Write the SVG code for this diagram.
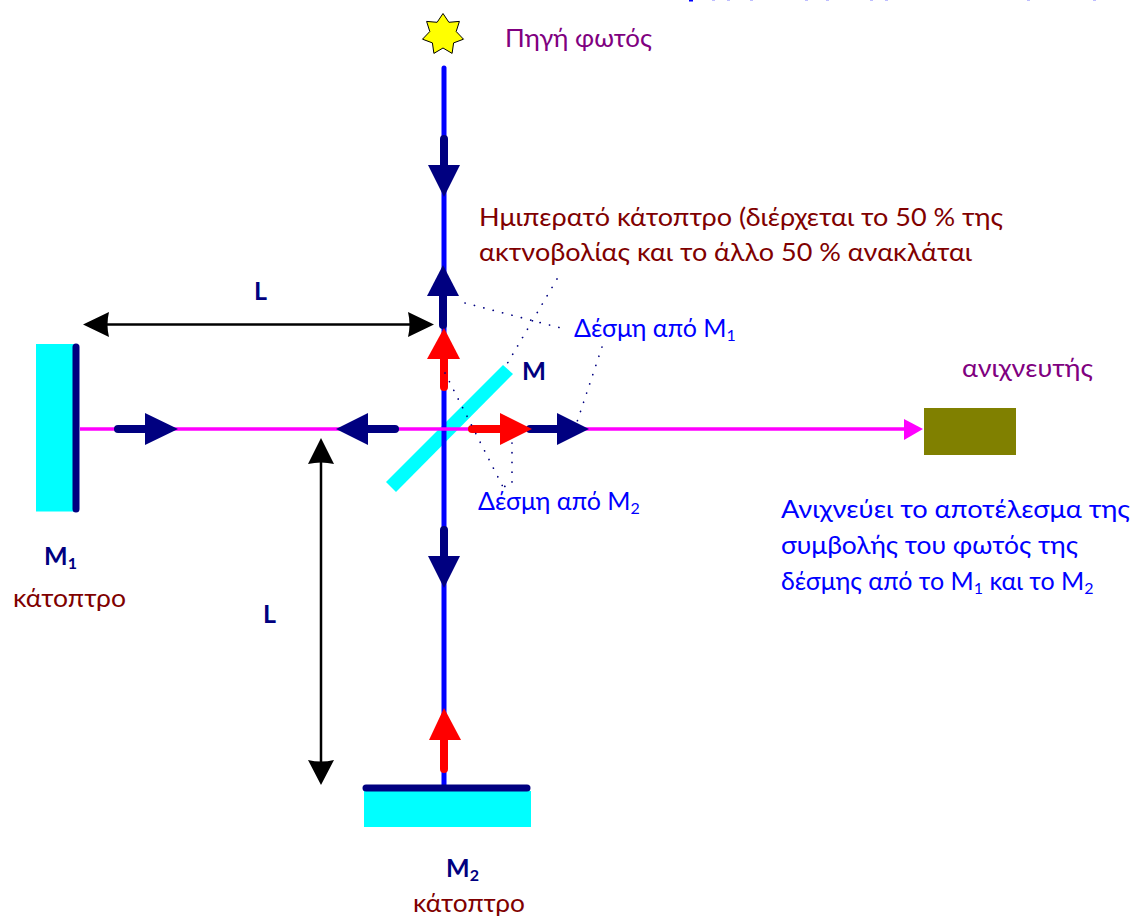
<svg xmlns="http://www.w3.org/2000/svg" width="1135" height="916" viewBox="0 0 1135 916">
<style>
text{font-family:"Lato","Open Sans","Noto Sans",sans-serif;font-size:25px}
.pu{fill:#800080}.dr{fill:#800000}.bl{fill:#0000ff}
.nb{fill:#000080;font-weight:bold}
.sub{font-size:16px}
.cy{fill:#00ffff}
.bar{stroke:#000080;stroke-width:7;stroke-linecap:round;fill:none}
.navy{stroke:#000080;stroke-width:8;stroke-linecap:round;fill:none}
.red{stroke:#ff0000;stroke-width:8;stroke-linecap:round;fill:none}
.hn{fill:#000080}.hr{fill:#ff0000}.hk{fill:#000}
.dot{stroke:#000080;stroke-width:1.7;stroke-linecap:round;stroke-dasharray:0.1 9.6;fill:none}
</style>
<rect width="1135" height="916" fill="#fff"/>
<g id="clipped-top" fill="#0000ff">
<rect x="689" y="0" width="4" height="1.5"/>
<g opacity="0.25"><rect x="712" y="0" width="3" height="1"/><rect x="727" y="0" width="3" height="1"/><rect x="750" y="0" width="3" height="1"/><rect x="805" y="0" width="3" height="1"/><rect x="826" y="0" width="3" height="1"/><rect x="870" y="0" width="3" height="1"/><rect x="885" y="0" width="3" height="1"/><rect x="1027" y="0" width="3" height="1"/><rect x="1093" y="0" width="3" height="1"/></g>
</g>
<g id="source">
<polygon points="443,13.5 448.9,22.3 459.4,21.4 456.2,31.5 463.5,39.2 453.6,42.9 452.1,53.4 443,48 433.9,53.4 432.4,42.9 422.5,39.2 429.8,31.5 426.6,21.4 437.1,22.3" fill="#ffff00" stroke="#000" stroke-width="1"/>
<text x="505" y="47" class="pu" textLength="147" lengthAdjust="spacingAndGlyphs">Πηγή φωτός</text>
</g>
<g id="mirror-m">
<polygon points="503,365 513,374 396,492 386,482" class="cy"/>
<text x="522" y="380" class="nb" textLength="24" lengthAdjust="spacingAndGlyphs">M</text>
</g>
<g id="mirror-m1">
<rect x="36" y="344" width="40" height="167.500" class="cy"/>
<line x1="76" y1="347" x2="76" y2="509" class="bar"/>
<text x="44" y="565" class="nb">M<tspan class="sub" dy="4">1</tspan></text>
<text x="13" y="607" class="dr" textLength="113" lengthAdjust="spacingAndGlyphs">κάτοπτρο</text>
</g>
<g id="mirror-m2">
<rect x="364" y="791" width="167" height="36" class="cy"/>
<text x="446" y="877" class="nb">M<tspan class="sub" dy="4">2</tspan></text>
<text x="413" y="912" class="dr" textLength="112" lengthAdjust="spacingAndGlyphs">κάτοπτρο</text>
</g>
<g id="detector">
<rect x="924" y="408" width="92" height="47" fill="#808000"/>
<text x="962" y="377" class="pu" textLength="131" lengthAdjust="spacingAndGlyphs">ανιχνευτής</text>
<text x="781" y="518" class="bl" textLength="349" lengthAdjust="spacingAndGlyphs">Ανιχνεύει το αποτέλεσμα της</text>
<text x="781" y="554" class="bl" textLength="297" lengthAdjust="spacingAndGlyphs">συμβολής του φωτός της</text>
<text x="781" y="590" class="bl">δέσμης από το M<tspan class="sub" dy="4">1</tspan><tspan dy="-4"> και το M</tspan><tspan class="sub" dy="4">2</tspan></text>
</g>
<g id="labels">
<text x="479" y="226" class="dr" textLength="524" lengthAdjust="spacingAndGlyphs">Ημιπερατό κάτοπτρο (διέρχεται το 50 % της</text>
<text x="479" y="261" class="dr" textLength="493" lengthAdjust="spacingAndGlyphs">ακτνοβολίας και το άλλο 50 % ανακλάται</text>
<text x="574" y="337" class="bl">Δέσμη από M<tspan class="sub" dy="4">1</tspan></text>
<text x="478" y="510" class="bl">Δέσμη από M<tspan class="sub" dy="4">2</tspan></text>
<text x="254" y="300" class="nb" font-size="25">L</text>
<text x="263" y="623" class="nb">L</text>
</g>
<g id="connectors">
<line x1="444" y1="68" x2="444" y2="786" stroke="#0000ff" stroke-width="5" stroke-linecap="round"/>
<line x1="80" y1="429" x2="906" y2="429" stroke="#ff00ff" stroke-width="3.500"/>
<polygon points="923,429 904,419 904,440" fill="#ff00ff"/>
<line x1="366" y1="788" x2="527" y2="788" class="bar"/>
<line x1="444" y1="139" x2="444" y2="170" class="navy"/><polygon points="444,197 428,165 460,165" class="hn"/>
<line x1="444" y1="530" x2="444" y2="560" class="navy"/><polygon points="444,588 428,556 460,556" class="hn"/>
<line x1="443" y1="325" x2="443" y2="290" class="navy"/><polygon points="443,265 427,296 459,296" class="hn"/>
<line x1="444" y1="387" x2="444" y2="354" class="red"/><polygon points="444,328 427,359 460,359" class="hr"/>
<line x1="444" y1="769" x2="444" y2="735" class="red"/><polygon points="444,708 429,740 461,740" class="hr"/>
<line x1="395" y1="429" x2="362" y2="429" class="navy"/><polygon points="336,429 368,413 368,445" class="hn"/>
<line x1="118" y1="429" x2="150" y2="429" class="navy"/><polygon points="178,429 145,413 145,445" class="hn"/>
<line x1="530" y1="429" x2="562" y2="429" class="navy"/><polygon points="589,429 557,413 557,445" class="hn"/>
<line x1="472" y1="429" x2="505" y2="429" class="red"/><polygon points="532,429 500,413 500,445" class="hr"/>
<line x1="100" y1="324.500" x2="420" y2="324.500" stroke="#000" stroke-width="2.500"/>
<path d="M83,324.500 L109,312 Q106,324.500 109,337 Z" class="hk"/>
<path d="M434,324.500 L408,312 Q411,324.500 408,337 Z" class="hk"/>
<line x1="321" y1="455" x2="321" y2="770" stroke="#000" stroke-width="2.500"/>
<path d="M321,438 L308,464 Q321,461 334,464 Z" class="hk"/>
<path d="M321,785 L308,760 Q321,763 334,760 Z" class="hk"/>
<path d="M465,303 L561,328" class="dot"/>
<path d="M557,279 L507,364" class="dot"/>
<path d="M602,347 L577,422" class="dot"/>
<path d="M445,373 L503,487" class="dot"/>
<path d="M512,443 L512,484 L503,487" class="dot"/>
</g>
</svg>
